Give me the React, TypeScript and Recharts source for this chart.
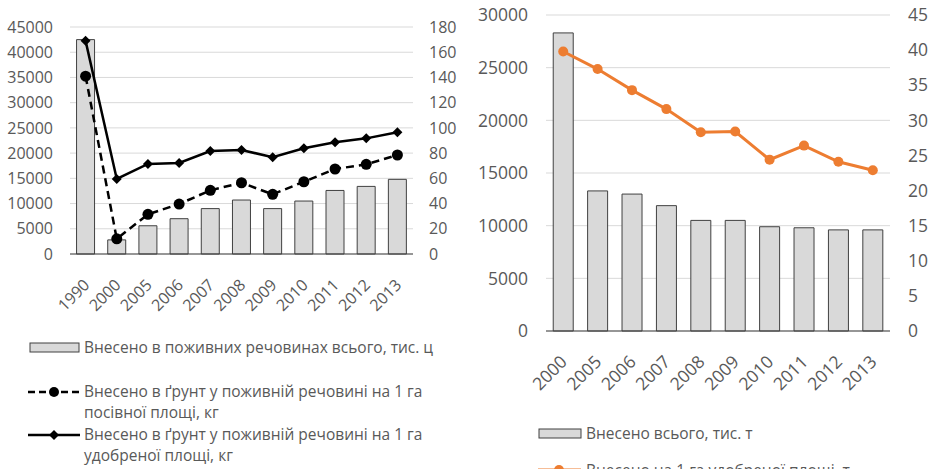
import React from "react";
import { ComposedChart, Bar, Line, XAxis, YAxis, CartesianGrid, Legend } from "recharts";

const YEARS_LEFT = ["1990", "2000", "2005", "2006", "2007", "2008", "2009", "2010", "2011", "2012", "2013"];
const TOTAL_NUTRIENTS = [42500, 2800, 5600, 7000, 9000, 10700, 9000, 10500, 12600, 13400, 14800];
const PER_SOWN_HA = [141, 12, 31.5, 39.6, 50.5, 56.5, 47.3, 57.3, 67.4, 71.1, 78.5];
const PER_FERT_HA = [169, 59.5, 71.4, 72.2, 81.7, 82.5, 76.7, 83.8, 88.6, 91.7, 96.5];

const YEARS_RIGHT = ["2000", "2005", "2006", "2007", "2008", "2009", "2010", "2011", "2012", "2013"];
const TOTAL_APPLIED = [28300, 13300, 13000, 11900, 10500, 10500, 9900, 9800, 9600, 9600];
const PER_FERT_HA_T = [39.8, 37.3, 34.3, 31.6, 28.3, 28.4, 24.4, 26.4, 24.1, 22.9];

const LEFT_TICKS = [0, 5000, 10000, 15000, 20000, 25000, 30000, 35000, 40000, 45000];
const LEFT_TICKS_R = [0, 20, 40, 60, 80, 100, 120, 140, 160, 180];
const RIGHT_TICKS = [0, 5000, 10000, 15000, 20000, 25000, 30000];
const RIGHT_TICKS_R = [0, 5, 10, 15, 20, 25, 30, 35, 40, 45];

const leftData = YEARS_LEFT.map((year, i) => ({
  year,
  total: TOTAL_NUTRIENTS[i],
  sown: PER_SOWN_HA[i],
  fert: PER_FERT_HA[i],
}));

const rightData = YEARS_RIGHT.map((year, i) => ({
  year,
  total: TOTAL_APPLIED[i],
  perHa: PER_FERT_HA_T[i],
}));

const TEXT = "#595959";
const BAR_FILL = "#d9d9d9";
const BAR_STROKE = "#404040";
const ORANGE = "#ed7d31";

function RotatedTick({ x, y, payload, fontSize }: any) {
  const px = x + 5;
  const py = y + 32;
  return (
    <text x={px} y={py} transform={`rotate(-45 ${px} ${py})`} textAnchor="end" fill={TEXT} fontSize={fontSize}>
      {payload.value}
    </text>
  );
}

function Diamond(props: any) {
  const { cx, cy, index } = props;
  if (cx == null || cy == null) return null;
  return <path key={`dm-${index}`} d={`M${cx},${cy - 5} L${cx + 5},${cy} L${cx},${cy + 5} L${cx - 5},${cy} Z`} fill="#000" />;
}

function LeftLegend() {
  const row: React.CSSProperties = { display: "flex", alignItems: "flex-start", lineHeight: "21.5px" };
  return (
    <div style={{ color: TEXT, fontSize: 15.5 }}>
      <div style={{ ...row, marginBottom: 22 }}>
        <svg width={56} height={21} style={{ flex: "none" }}>
          <rect x={2} y={6} width={49} height={9} fill={BAR_FILL} stroke={BAR_STROKE} />
        </svg>
        <span>Внесено в поживних речовинах всього, тис. ц</span>
      </div>
      <div style={row}>
        <svg width={56} height={21} style={{ flex: "none" }}>
          <line x1={0} y1={11} x2={52} y2={11} stroke="#000" strokeWidth={2.5} strokeDasharray="7 4" />
          <circle cx={26} cy={11} r={5} fill="#000" />
        </svg>
        <span>
          Внесено в ґрунт у поживній речовині на 1 га
          <br />
          посівної площі, кг
        </span>
      </div>
      <div style={row}>
        <svg width={56} height={21} style={{ flex: "none" }}>
          <line x1={0} y1={11} x2={52} y2={11} stroke="#000" strokeWidth={2.5} />
          <path d="M26,6 L31,11 L26,16 L21,11 Z" fill="#000" />
        </svg>
        <span>
          Внесено в ґрунт у поживній речовині на 1 га
          <br />
          удобреної площі, кг
        </span>
      </div>
    </div>
  );
}

function RightLegend() {
  const row: React.CSSProperties = { display: "flex", alignItems: "center", lineHeight: "21px" };
  return (
    <div style={{ color: TEXT, fontSize: 15.5 }}>
      <div style={{ ...row, marginBottom: 16 }}>
        <svg width={48} height={21} style={{ flex: "none" }}>
          <rect x={1} y={6} width={42} height={9} fill={BAR_FILL} stroke={BAR_STROKE} />
        </svg>
        <span>Внесено всього, тис. т</span>
      </div>
      <div style={row}>
        <svg width={48} height={21} style={{ flex: "none" }}>
          <line x1={0} y1={10} x2={43} y2={10} stroke={ORANGE} strokeWidth={3} />
          <circle cx={21} cy={10} r={5} fill={ORANGE} />
        </svg>
        <span>Внесено на 1 га удобреної площі, т</span>
      </div>
    </div>
  );
}

export default function App() {
  return (
    <div
      style={{
        position: "absolute",
        left: 0,
        top: 0,
        width: 928,
        height: 469,
        overflow: "hidden",
        background: "#fff",
        fontFamily: "'Open Sans', sans-serif",
      }}
    >
      <div style={{ position: "absolute", left: 0, top: 0 }}>
        <ComposedChart width={470} height={469} data={leftData} margin={{ top: 27, right: 0, bottom: 155, left: 0 }} barCategoryGap="21%">
          <CartesianGrid yAxisId="l" vertical={false} stroke="#d9d9d9" />
          <XAxis
            dataKey="year"
            height={60}
            interval={0}
            tickLine={false}
            tickSize={0}
            tickMargin={0}
            axisLine={{ stroke: BAR_STROKE }}
            tick={<RotatedTick fontSize={16} />}
          />
          <YAxis
            yAxisId="l"
            width={70}
            domain={[0, 45000]}
            ticks={LEFT_TICKS}
            axisLine={false}
            tickLine={false}
            tickSize={0}
            tickMargin={17}
            tick={{ fill: TEXT, fontSize: 16 }}
          />
          <YAxis
            yAxisId="r"
            orientation="right"
            width={57}
            domain={[0, 180]}
            ticks={LEFT_TICKS_R}
            axisLine={false}
            tickLine={false}
            tickSize={0}
            tickMargin={16}
            tick={{ fill: TEXT, fontSize: 16 }}
          />
          <Legend
            layout="horizontal"
            verticalAlign="middle"
            align="center"
            wrapperStyle={{ left: 28, top: 337, width: 440 }}
            content={() => <LeftLegend />}
          />
          <Bar yAxisId="l" dataKey="total" fill={BAR_FILL} stroke={BAR_STROKE} strokeWidth={1} isAnimationActive={false} />
          <Line
            yAxisId="r"
            dataKey="sown"
            stroke="#000"
            strokeWidth={2.5}
            strokeDasharray="8 5"
            dot={{ r: 5.5, fill: "#000", stroke: "#000", strokeWidth: 0 }}
            isAnimationActive={false}
          />
          <Line yAxisId="r" dataKey="fert" stroke="#000" strokeWidth={2.5} dot={<Diamond />} isAnimationActive={false} />
        </ComposedChart>
      </div>
      <div style={{ position: "absolute", left: 470, top: 0 }}>
        <ComposedChart width={458} height={469} data={rightData} margin={{ top: 15, right: 0, bottom: 78, left: 0 }} barCategoryGap="21%">
          <CartesianGrid yAxisId="l" vertical={false} stroke="#d9d9d9" />
          <XAxis
            dataKey="year"
            height={60}
            interval={0}
            tickLine={false}
            tickSize={0}
            tickMargin={0}
            axisLine={{ stroke: BAR_STROKE }}
            tick={<RotatedTick fontSize={17.5} />}
          />
          <YAxis
            yAxisId="l"
            width={76}
            domain={[0, 30000]}
            ticks={RIGHT_TICKS}
            axisLine={false}
            tickLine={false}
            tickSize={0}
            tickMargin={18}
            tick={{ fill: TEXT, fontSize: 17.5 }}
          />
          <YAxis
            yAxisId="r"
            orientation="right"
            width={38}
            domain={[0, 45]}
            ticks={RIGHT_TICKS_R}
            axisLine={false}
            tickLine={false}
            tickSize={0}
            tickMargin={18}
            tick={{ fill: TEXT, fontSize: 17.5 }}
          />
          <Legend
            layout="horizontal"
            verticalAlign="middle"
            align="center"
            wrapperStyle={{ left: 68, top: 423, width: 390 }}
            content={() => <RightLegend />}
          />
          <Bar yAxisId="l" dataKey="total" fill={BAR_FILL} stroke={BAR_STROKE} strokeWidth={1} isAnimationActive={false} />
          <Line
            yAxisId="r"
            dataKey="perHa"
            stroke={ORANGE}
            strokeWidth={3}
            dot={{ r: 5, fill: ORANGE, stroke: ORANGE, strokeWidth: 0 }}
            isAnimationActive={false}
          />
        </ComposedChart>
      </div>
    </div>
  );
}
